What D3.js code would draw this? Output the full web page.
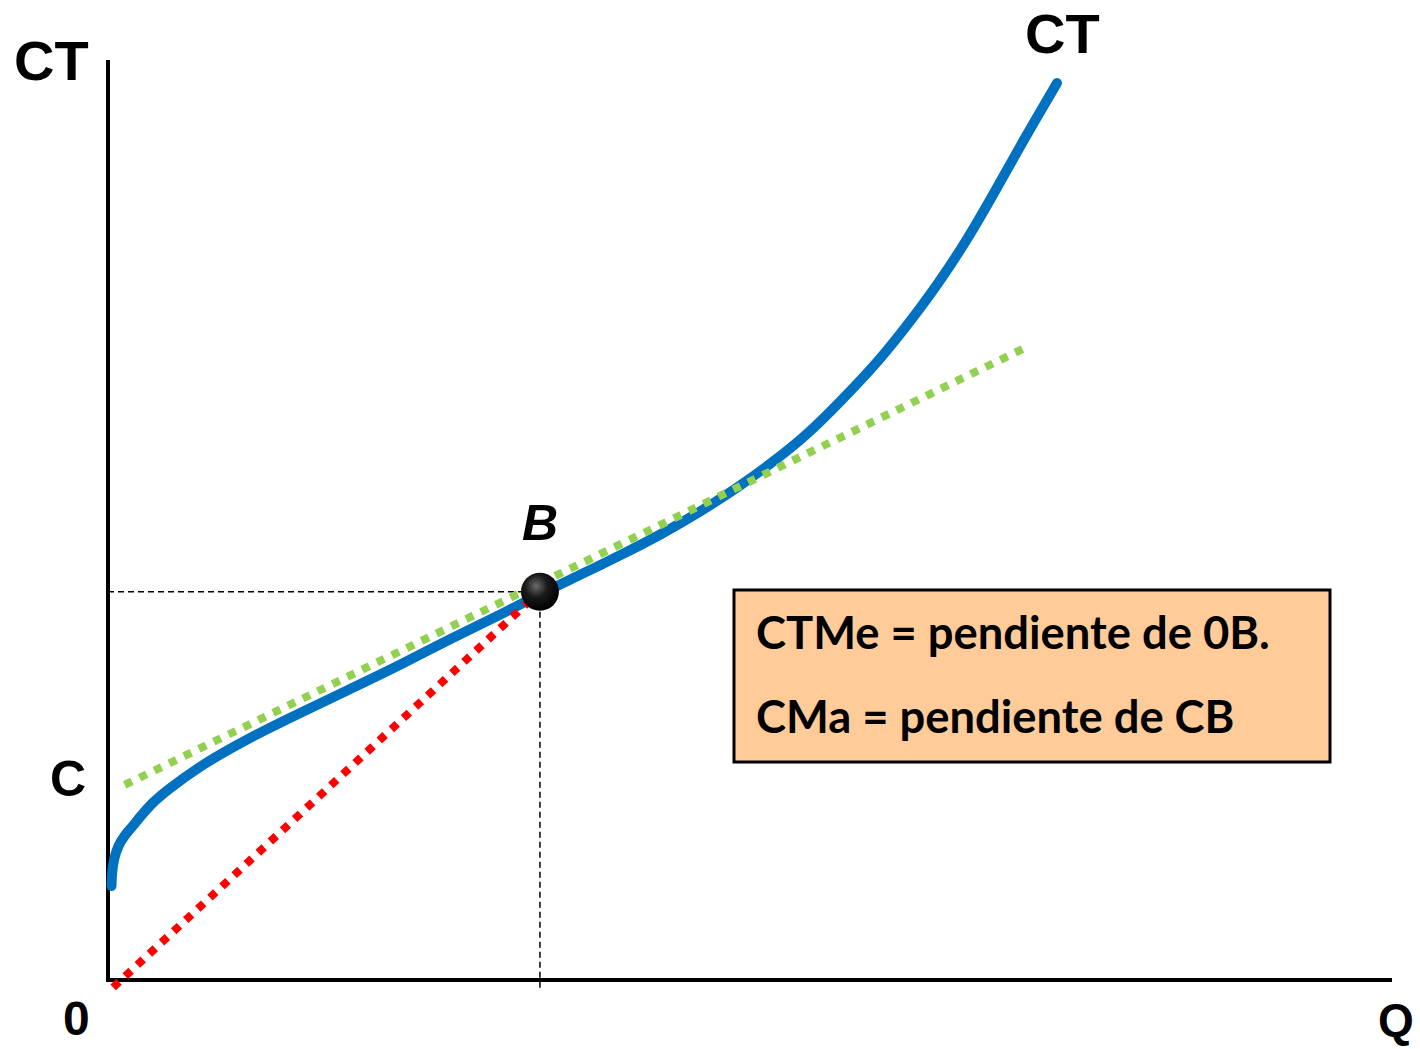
<!DOCTYPE html>
<html>
<head>
<meta charset="utf-8">
<script src="https://cdn.jsdelivr.net/npm/d3@7"></script>
<style>
  html, body { margin: 0; padding: 0; background: #fff; }
  svg { display: block; }
</style>
</head>
<body>
<svg id="chart" width="1420" height="1049"></svg>
<script>
// Total cost curve (Q, CT)
const ctQ = [0.27, 0.31, 0.47, 0.78, 1.25, 1.87, 2.49, 3.43, 4.60, 7.17, 9.74, 12.38, 14.95, 18.85, 22.74, 26.64, 30.53, 33.64, 36.76, 40.42, 42.99, 46.11, 49.22, 51.79, 54.44, 57.01, 60.12, 62.69, 64.80, 66.90, 68.93, 71.26, 73.91];
const ctV = [10.22, 11.74, 13.26, 14.57, 15.65, 16.63, 17.72, 19.24, 20.65, 23.26, 25.33, 27.28, 29.02, 31.63, 34.24, 37.07, 39.67, 41.96, 44.02, 46.52, 48.37, 50.87, 53.70, 56.30, 59.24, 62.83, 67.39, 71.96, 75.98, 80.43, 85.33, 91.20, 97.50];

// point B
const pointB = { q: 33.64, ct: 42.2 };
// tangent line through C (CMa) and ray from origin (CTMe)
const tangentQ = [1.3, 71.4];
const tangentV = [21.2, 68.7];
const rayQ = [0.4, 33.3];
const rayV = [-0.8, 41.8];

const boxLines = ["CTMe = pendiente de 0B.", "CMa = pendiente de CB"];

const svg = d3.select("#chart");

const x = d3.scaleLinear().domain([0, 100]).range([108, 1392]);
const y = d3.scaleLinear().domain([0, 100]).range([980, 60]);

const line = d3.line()
  .x(d => x(d[0]))
  .y(d => y(d[1]));

const curve = d3.line()
  .x(d => x(d[0]))
  .y(d => y(d[1]))
  .curve(d3.curveBasis);

// axes (plain lines, no ticks)
svg.append("line")
  .attr("x1", x(0)).attr("x2", x(0))
  .attr("y1", y(100)).attr("y2", y(0) + 2)
  .attr("stroke", "#000").attr("stroke-width", 4);
svg.append("line")
  .attr("x1", x(0) - 2).attr("x2", x(100))
  .attr("y1", y(0)).attr("y2", y(0))
  .attr("stroke", "#000").attr("stroke-width", 4);

// guides to B
svg.append("path")
  .attr("d", line([[0, pointB.ct], [pointB.q, pointB.ct]]))
  .attr("stroke", "#000").attr("stroke-width", 1.5)
  .attr("stroke-dasharray", "6,4").attr("fill", "none");
svg.append("path")
  .attr("d", line([[pointB.q, pointB.ct], [pointB.q, -1.1]]))
  .attr("stroke", "#000").attr("stroke-width", 1.5)
  .attr("stroke-dasharray", "6,4").attr("fill", "none");

// CT curve
svg.append("path")
  .attr("d", curve(d3.zip(ctQ, ctV)))
  .attr("fill", "none")
  .attr("stroke", "#0070C0")
  .attr("stroke-width", 10)
  .attr("stroke-linecap", "round")
  .attr("stroke-linejoin", "round");

// ray 0B (red dots)
svg.append("path")
  .attr("d", line(d3.zip(rayQ, rayV)))
  .attr("fill", "none")
  .attr("stroke", "#FF0000")
  .attr("stroke-width", 8)
  .attr("stroke-dasharray", "8,8.5");

// tangent CB (green dots)
svg.append("path")
  .attr("d", line(d3.zip(tangentQ, tangentV)))
  .attr("fill", "none")
  .attr("stroke", "#92D050")
  .attr("stroke-width", 8)
  .attr("stroke-dasharray", "8,8.5");

// ball at B
const defs = svg.append("defs");
const grad = defs.append("radialGradient")
  .attr("id", "ball")
  .attr("cx", "40%").attr("cy", "35%").attr("r", "65%");
grad.append("stop").attr("offset", "0%").attr("stop-color", "#6a6a6a");
grad.append("stop").attr("offset", "45%").attr("stop-color", "#1a1a1a");
grad.append("stop").attr("offset", "100%").attr("stop-color", "#000");
svg.append("circle")
  .attr("cx", x(pointB.q)).attr("cy", y(pointB.ct))
  .attr("r", 19)
  .attr("fill", "url(#ball)");

// labels
const lbl = (tx, ty, txt, size, extra) => {
  const t = svg.append("text")
    .attr("x", tx).attr("y", ty)
    .attr("font-family", "'Liberation Sans', Arial, sans-serif")
    .attr("font-weight", "bold")
    .attr("font-size", size)
    .attr("fill", "#000")
    .text(txt);
  if (extra) extra(t);
  return t;
};
lbl(14, 80, "CT", 56);
lbl(1025, 53, "CT", 56);
lbl(x(pointB.q), 540, "B", 50, t => t.attr("text-anchor", "middle").attr("font-style", "italic"));
lbl(50, 796, "C", 50);
lbl(63, 1035, "0", 48);
lbl(1378, 1036, "Q", 46);

// info box
const box = { left: 734, top: 590, width: 596, height: 172 };
svg.append("rect")
  .attr("x", box.left).attr("y", box.top)
  .attr("width", box.width).attr("height", box.height)
  .attr("fill", "#FFCC99")
  .attr("stroke", "#000")
  .attr("stroke-width", 3);

const boxText = svg.selectAll(".boxline")
  .data(boxLines)
  .enter().append("text")
  .attr("class", "boxline")
  .attr("x", box.left + 22)
  .attr("y", (d, i) => box.top + 59 + i * 84)
  .attr("font-family", "Lato, 'Open Sans', sans-serif")
  .attr("font-weight", "bold")
  .attr("font-size", 44)
  .attr("fill", "#000")
  .text(d => d);

// fit font size so the first line spans the same width as the picture
const w0 = boxText.node().getComputedTextLength();
const fs = 44 * 514 / w0;
boxText.attr("font-size", fs);
</script>
</body>
</html>
